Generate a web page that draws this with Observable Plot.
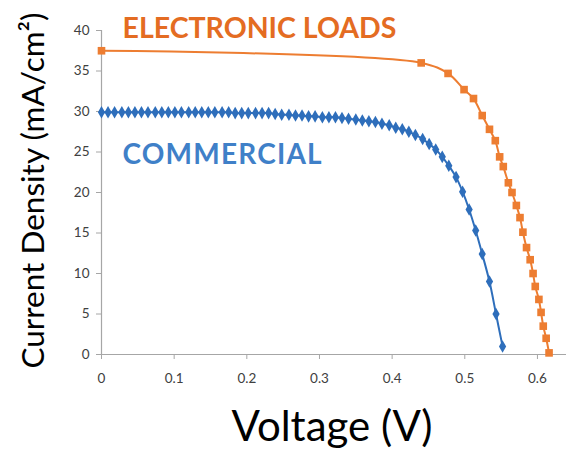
<!DOCTYPE html>
<html>
<head>
<meta charset="utf-8">
<script src="https://cdn.jsdelivr.net/npm/d3@7"></script>
<script src="https://cdn.jsdelivr.net/npm/@observablehq/plot@0.6"></script>
<style>
  html, body { margin: 0; padding: 0; background: #fff; }
  #chart svg { display: block; }
</style>
</head>
<body>
<div id="chart"></div>
<script>
// Commercial cell (blue diamonds)
const commercialV = [0, 0.009, 0.018, 0.028, 0.037, 0.046, 0.055, 0.064, 0.074, 0.083, 0.092, 0.101, 0.110, 0.120, 0.129, 0.138, 0.147, 0.156, 0.166, 0.175, 0.184, 0.193, 0.202, 0.212, 0.221, 0.230, 0.239, 0.248, 0.258, 0.267, 0.276, 0.285, 0.294, 0.304, 0.313, 0.322, 0.331, 0.340, 0.350, 0.359, 0.368, 0.377, 0.386, 0.396, 0.405, 0.414, 0.423, 0.432, 0.442, 0.451, 0.460, 0.469, 0.478, 0.488, 0.497, 0.506, 0.515, 0.524, 0.534, 0.543, 0.552];
const commercialJ = [29.9, 29.9, 29.9, 29.9, 29.9, 29.9, 29.9, 29.9, 29.9, 29.9, 29.9, 29.9, 29.9, 29.9, 29.9, 29.9, 29.9, 29.9, 29.9, 29.9, 29.8, 29.8, 29.8, 29.8, 29.8, 29.8, 29.7, 29.6, 29.6, 29.5, 29.5, 29.4, 29.4, 29.3, 29.3, 29.3, 29.2, 29.1, 29.0, 28.9, 28.8, 28.7, 28.5, 28.3, 28.0, 27.8, 27.5, 27.1, 26.6, 26.0, 25.3, 24.4, 23.3, 21.9, 20.1, 17.9, 15.3, 12.4, 9.0, 5.0, 1.0];
// Electronic loads (orange squares)
const loadsV = [0, 0.440, 0.477, 0.499, 0.512, 0.524, 0.534, 0.542, 0.548, 0.553, 0.560, 0.565, 0.571, 0.576, 0.580, 0.585, 0.590, 0.594, 0.597, 0.602, 0.605, 0.608, 0.612, 0.616];
const loadsJ = [37.5, 36.0, 34.7, 32.7, 31.6, 29.5, 27.8, 26.4, 24.4, 23.2, 21.2, 20.0, 18.4, 16.9, 15.1, 13.2, 11.7, 10.0, 8.4, 6.8, 5.2, 3.5, 2.0, 0.2];
const xTicks = [0, 0.1, 0.2, 0.3, 0.4, 0.5, 0.6];
const yTicks = [0, 5, 10, 15, 20, 25, 30, 35, 40];
const labels = {loads: "ELECTRONIC LOADS", commercial: "COMMERCIAL", x: "Voltage (V)", y: "Current Density (mA/cm²)"};

const commercial = commercialV.map((v, i) => ({v, j: commercialJ[i]}));
const loads = loadsV.map((v, i) => ({v, j: loadsJ[i]}));

const orange = "#ED7D31";
const blue = "#2E6EBB";
const axisGray = "#a6a6a6";

const chart = Plot.plot({
  width: 566,
  height: 450,
  marginLeft: 101,
  marginRight: 0,
  marginTop: 30,
  marginBottom: 96,
  style: {fontFamily: "Lato, sans-serif", background: "#fff", overflow: "visible"},
  x: {domain: [0, 0.64]},
  y: {domain: [0, 40]},
  marks: [
    Plot.axisX({ticks: xTicks, tickSize: 5, tickPadding: 14, fontSize: 13.5, label: null, tickFormat: d => String(d)}),
    Plot.axisY({ticks: yTicks, tickSize: 5, tickPadding: 7, fontSize: 13.5, label: null}),
    Plot.ruleY([0], {stroke: axisGray, strokeWidth: 1.2}),
    Plot.ruleX([0], {stroke: axisGray, strokeWidth: 1.2}),
    Plot.line(loads, {x: "v", y: "j", stroke: orange, strokeWidth: 2, curve: "catmull-rom"}),
    Plot.dot(loads, {x: "v", y: "j", symbol: "square", r: 4.3, fill: orange, stroke: "none"}),
    Plot.line(commercial, {x: "v", y: "j", stroke: blue, strokeWidth: 2, curve: "catmull-rom"}),
    Plot.dot(commercial, {x: "v", y: "j", symbol: "diamond", r: 3.8, fill: blue, stroke: "none"}),
    Plot.text([labels.loads], {frameAnchor: "top-left", textAnchor: "start", lineAnchor: "bottom", dx: 21, dy: 7, fontSize: 28.5, fontWeight: "bold", fill: "#E46C22"}),
    Plot.text([labels.commercial], {frameAnchor: "top-left", textAnchor: "start", lineAnchor: "bottom", dx: 21, dy: 133, fontSize: 28, fontWeight: "bold", fill: "#3F80C8", className: "commercial-label"}),
    Plot.text([labels.y], {frameAnchor: "left", textAnchor: "middle", lineAnchor: "middle", rotate: -90, dx: -68, dy: -2, fontSize: 31.5, fill: "#000"}),
    Plot.text([labels.x], {frameAnchor: "bottom", textAnchor: "middle", lineAnchor: "middle", dy: 73, dx: -2, fontSize: 42, fill: "#000"})
  ]
});

d3.select(chart).selectAll("g[aria-label='x-axis tick'], g[aria-label='y-axis tick']").attr("stroke", axisGray);
d3.select(chart).selectAll("g[aria-label='x-axis tick label'], g[aria-label='y-axis tick label']").attr("fill", "#404040");
d3.select(chart).selectAll(".commercial-label text").attr("letter-spacing", "1.2px");
document.getElementById("chart").appendChild(chart);
</script>
</body>
</html>
